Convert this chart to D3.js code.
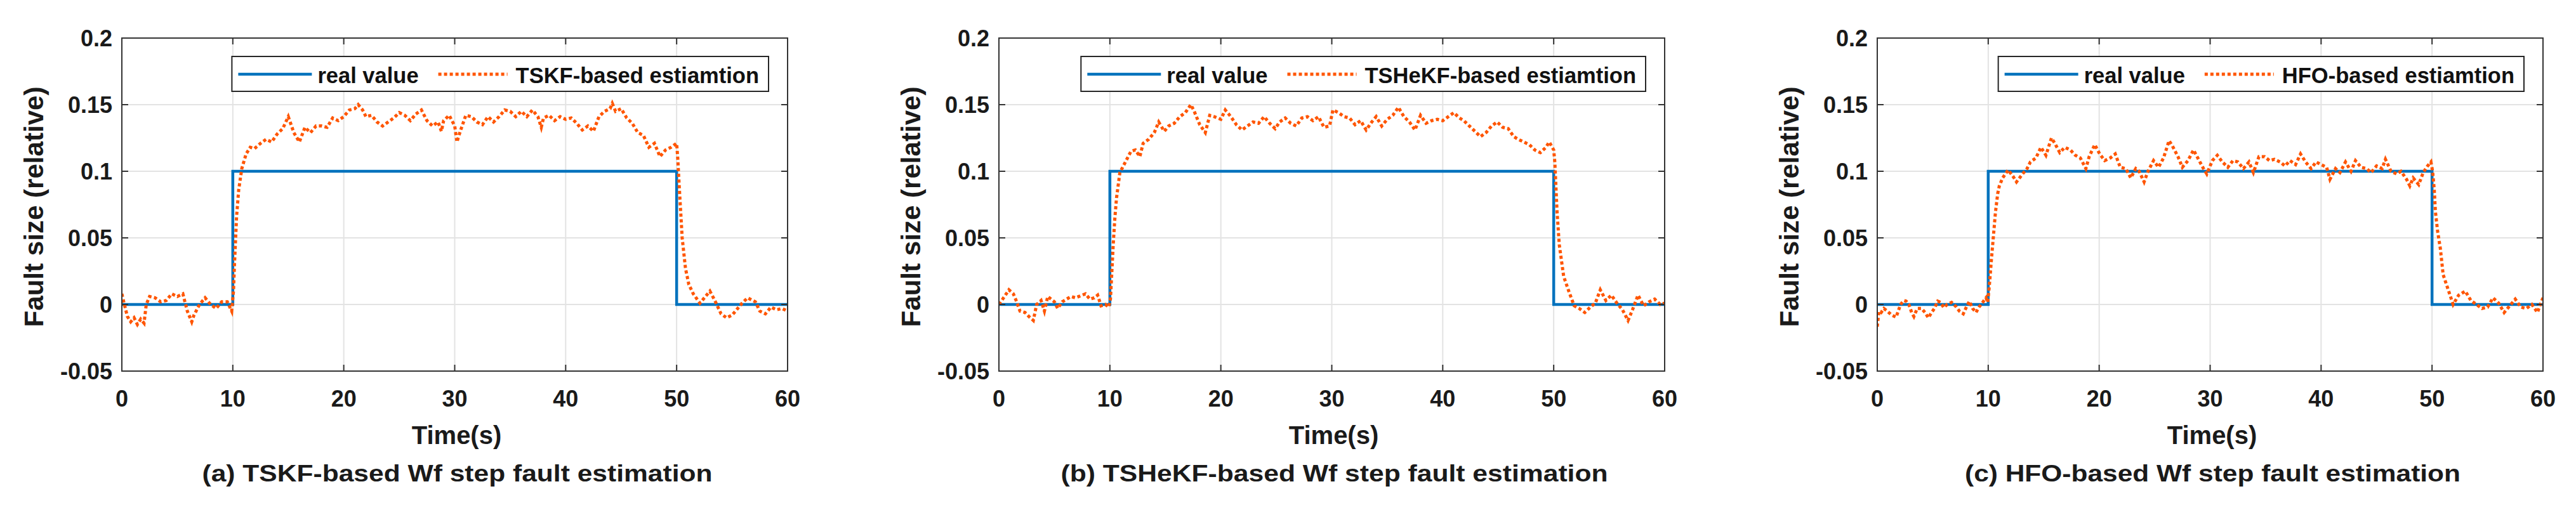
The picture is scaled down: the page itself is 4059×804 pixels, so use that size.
<!DOCTYPE html>
<html><head><meta charset="utf-8">
<script src="https://cdn.jsdelivr.net/npm/d3@7/dist/d3.min.js"></script>
<style>body{margin:0;background:#fff}svg{display:block}</style>
</head><body>
<svg id="chart" width="4059" height="804"></svg>
<script>
// ---------- data ----------
const xTicks = [0, 10, 20, 30, 40, 50, 60];
const yTicks = [-0.05, 0, 0.05, 0.1, 0.15, 0.2];
const yTickLabels = ["-0.05", "0", "0.05", "0.1", "0.15", "0.2"];
const xTickLabels = ["0", "10", "20", "30", "40", "50", "60"];

const realTime  = [0, 10, 10, 50, 50, 60];
const realValue = [0, 0, 0.1, 0.1, 0, 0];

const timeA = [0,0.2,0.5,0.8,1.1,1.4,1.7,2.0,2.2,2.5,3.0,3.5,4.0,4.5,5.0,5.5,5.9,6.3,6.5,7.0,7.5,8.0,8.5,9.0,9.5,9.9,
  10.06,10.15,10.25,10.34,10.53,10.81,11.2,11.57,11.95,12.5,13.0,13.5,14.0,14.5,15.0,15.5,16.0,16.5,17.0,17.5,18.0,18.5,19.0,19.5,
  20.0,20.5,21.0,21.3,21.7,22.0,22.5,23.0,23.5,24.0,24.5,25.0,25.5,26.0,26.5,27.0,27.5,28.0,28.5,28.8,29.0,29.5,
  30.0,30.2,30.5,31.0,31.5,32.0,32.5,33.0,33.5,34.0,34.5,35.0,35.5,36.0,36.5,37.0,37.5,37.8,38.0,38.5,39.0,39.5,
  40.0,40.5,41.0,41.5,42.0,42.5,43.0,43.5,44.0,44.2,44.5,45.0,45.5,46.0,46.5,47.0,47.5,48.0,48.5,49.0,49.5,
  50.0,50.1,50.2,50.3,50.5,50.8,51.1,51.5,52.1,52.8,53.0,53.5,54.0,54.5,55.0,55.5,55.9,56.4,57.1,57.5,58.0,58.5,59.0,59.5,60.0];
const estA = [0.008,0.001,-0.009,-0.013,-0.010,-0.015,-0.011,-0.014,0.000,0.006,0.005,0.002,0.003,0.008,0.006,0.008,-0.005,-0.013,-0.008,0.000,0.005,0.000,-0.003,0.002,0.002,-0.005,
  0.010,0.030,0.049,0.066,0.086,0.102,0.113,0.118,0.117,0.121,0.124,0.122,0.128,0.132,0.141,0.129,0.122,0.133,0.129,0.134,0.134,0.133,0.140,0.138,
  0.141,0.146,0.147,0.150,0.146,0.141,0.142,0.137,0.134,0.137,0.140,0.144,0.142,0.138,0.143,0.146,0.138,0.134,0.137,0.130,0.138,0.142,
  0.134,0.122,0.130,0.142,0.141,0.137,0.135,0.141,0.137,0.141,0.146,0.145,0.141,0.145,0.141,0.146,0.141,0.133,0.140,0.142,0.138,0.141,
  0.139,0.140,0.136,0.131,0.134,0.130,0.141,0.145,0.147,0.151,0.145,0.147,0.140,0.136,0.129,0.127,0.118,0.121,0.111,0.116,0.118,
  0.121,0.110,0.094,0.079,0.050,0.027,0.015,0.008,0.001,0.008,0.010,0.002,-0.007,-0.010,-0.008,-0.003,0.001,0.005,0.002,-0.005,-0.007,-0.002,-0.004,-0.003,-0.005];

const timeB = [0,0.25,0.5,0.9,1.3,1.6,1.9,2.35,2.7,3.1,3.4,3.8,4.1,4.4,4.7,5.0,5.3,5.7,6.1,6.5,6.9,7.2,7.8,8.2,8.6,8.9,9.2,9.6,9.9,
  10.05,10.15,10.3,10.45,10.6,10.9,11.4,11.9,12.3,12.7,13.0,13.5,14.0,14.4,14.9,15.3,15.8,16.3,16.8,17.3,17.6,18.1,18.6,19.0,19.4,
  20.0,20.4,20.9,21.4,21.9,22.4,22.9,23.4,23.9,24.4,24.9,25.3,25.8,26.3,26.8,27.3,27.8,28.3,28.8,29.3,29.8,
  30.1,30.6,31.1,31.6,32.1,32.6,33.1,33.6,34.0,34.5,35.0,35.5,36.0,36.5,37.0,37.5,38.0,38.5,39.0,39.5,
  40.0,40.5,41.0,41.5,41.9,42.4,42.9,43.4,43.9,44.4,44.9,45.4,45.9,46.4,46.8,47.3,47.8,48.3,48.8,49.3,49.6,
  50.0,50.1,50.3,50.5,50.9,51.4,51.85,52.3,52.8,53.3,53.75,54.2,54.7,55.2,55.7,56.2,56.7,57.1,57.6,58.1,58.6,59.1,59.6,60.0];
const estB = [0.000,0.003,0.006,0.011,0.008,0.002,-0.005,-0.006,-0.009,-0.012,0.000,0.003,-0.005,0.006,0.004,0.002,-0.003,0.002,0.004,0.006,0.005,0.006,0.008,0.004,0.005,0.007,-0.001,0.000,-0.002,
  0.004,0.020,0.045,0.065,0.080,0.099,0.107,0.115,0.116,0.111,0.121,0.124,0.129,0.137,0.130,0.134,0.136,0.141,0.144,0.150,0.145,0.135,0.129,0.142,0.141,
  0.139,0.146,0.141,0.135,0.131,0.134,0.137,0.136,0.141,0.136,0.132,0.137,0.140,0.136,0.134,0.140,0.141,0.138,0.141,0.133,0.134,
  0.146,0.144,0.141,0.140,0.135,0.138,0.131,0.137,0.141,0.134,0.139,0.142,0.148,0.141,0.137,0.131,0.142,0.136,0.138,0.139,
  0.138,0.141,0.144,0.140,0.138,0.134,0.130,0.126,0.129,0.134,0.137,0.133,0.132,0.126,0.124,0.122,0.120,0.116,0.114,0.118,0.122,
  0.116,0.107,0.070,0.045,0.021,0.009,-0.001,-0.003,-0.006,-0.002,0.001,0.011,0.003,0.007,0.001,-0.004,-0.012,-0.004,0.007,-0.001,0.002,0.004,0.000,0.001];

const timeC = [0,0.05,0.15,0.35,0.6,0.9,1.3,1.7,2.1,2.4,2.6,2.85,3.1,3.3,3.6,4.0,4.3,4.6,4.9,5.15,5.45,5.7,6.0,6.3,6.7,7.1,7.4,7.75,8.05,8.3,8.6,8.9,9.2,9.5,9.8,9.95,
  10.05,10.15,10.3,10.45,10.65,10.85,11.0,11.3,11.8,12.25,12.55,13.0,13.5,13.8,14.3,14.75,15.2,15.7,16.0,16.45,16.9,17.4,17.85,18.3,18.8,19.1,19.6,
  20.05,20.5,21.0,21.45,21.9,22.4,22.85,23.3,23.6,24.05,24.4,24.9,25.35,25.8,26.3,26.6,27.1,27.5,28.0,28.5,28.95,29.4,29.7,
  30.2,30.65,31.1,31.6,32.05,32.5,33.0,33.5,33.9,34.4,34.9,35.35,35.8,36.3,36.75,37.2,37.7,38.15,38.6,39.1,39.55,
  40.0,40.5,40.8,41.3,41.7,42.2,42.7,43.1,43.6,44.1,44.5,45.0,45.5,45.8,46.3,46.8,47.2,47.7,48.0,48.3,48.8,49.2,49.6,49.9,
  50.05,50.2,50.3,50.5,50.75,51.0,51.5,51.9,52.4,53.0,53.5,54.0,54.5,55.0,55.5,56.0,56.5,57.0,57.5,58.0,58.5,59.0,59.5,59.8,60.0];
const estC = [-0.0166,-0.0127,-0.005,-0.006,-0.003,-0.005,-0.008,-0.0095,0.000,0.003,0.0025,0.000,-0.006,-0.009,-0.003,-0.003,-0.006,-0.010,-0.006,-0.003,0.0025,0.0016,-0.0024,0.000,0.0016,-0.0016,-0.005,-0.007,-0.0016,0.0024,-0.003,-0.006,-0.0016,0.0016,0.005,0.0016,
  0.0095,0.019,0.035,0.0495,0.069,0.083,0.089,0.095,0.101,0.096,0.092,0.097,0.102,0.107,0.110,0.118,0.112,0.125,0.121,0.114,0.118,0.116,0.112,0.110,0.102,0.111,0.120,
  0.113,0.108,0.110,0.113,0.103,0.102,0.095,0.102,0.100,0.092,0.100,0.108,0.103,0.110,0.123,0.119,0.111,0.103,0.108,0.116,0.109,0.102,0.098,
  0.108,0.112,0.107,0.103,0.108,0.107,0.102,0.107,0.099,0.111,0.111,0.108,0.109,0.107,0.104,0.108,0.105,0.113,0.107,0.102,0.107,
  0.105,0.103,0.094,0.102,0.099,0.107,0.100,0.108,0.103,0.102,0.099,0.104,0.102,0.109,0.100,0.098,0.100,0.094,0.089,0.095,0.090,0.099,0.104,0.107,
  0.100,0.086,0.070,0.055,0.042,0.0224,0.010,0.000,0.007,0.010,0.003,0.000,-0.003,-0.002,0.005,0.001,-0.006,-0.001,0.004,-0.002,-0.003,0.000,-0.006,0.001,0.005];

const estTimes  = [timeA, timeB, timeC];
const estValues = [estA, estB, estC];
const realLabel = "real value";
const estLabels = ["TSKF-based estiamtion", "TSHeKF-based estiamtion", "HFO-based estiamtion"];
const captions  = ["(a) TSKF-based Wf step fault estimation", "(b) TSHeKF-based Wf step fault estimation", "(c) HFO-based Wf step fault estimation"];
const xLabel = "Time(s)";
const yLabel = "Fault size (relative)";

// ---------- layout ----------
const panelLefts = [192, 1574, 2958];
const plotW = 1049, plotTop = 60, plotH = 525;
const captionWidths = [804, 862, 781];
const blue = "#0072BD", orange = "#FF5500", axisCol = "#333333", gridCol = "#e3e3e3";
const FONT = "'Liberation Sans', Arial, Helvetica, sans-serif";
const DASH = "5,4";

const svg = d3.select("#chart").style("font-family", FONT);

panelLefts.forEach((left, i) => {
  const x = d3.scaleLinear().domain([0, 60]).range([left, left + plotW]);
  const y = d3.scaleLinear().domain([-0.05, 0.2]).range([plotTop + plotH, plotTop]);
  const g = svg.append("g");

  const clipId = "clip" + i;
  svg.append("clipPath").attr("id", clipId).append("rect")
    .attr("x", left).attr("y", plotTop).attr("width", plotW).attr("height", plotH);

  // grid
  g.append("g").selectAll("line").data(xTicks.slice(1, -1)).join("line")
    .attr("x1", d => x(d)).attr("x2", d => x(d)).attr("y1", plotTop).attr("y2", plotTop + plotH)
    .attr("stroke", gridCol).attr("stroke-width", 2);
  g.append("g").selectAll("line").data(yTicks.slice(1, -1)).join("line")
    .attr("y1", d => y(d)).attr("y2", d => y(d)).attr("x1", left).attr("x2", left + plotW)
    .attr("stroke", gridCol).attr("stroke-width", 2);

  // real value line
  const realPts = realTime.map((t, k) => [t, realValue[k]]);
  g.append("path").datum(realPts)
    .attr("clip-path", `url(#${clipId})`)
    .attr("d", d3.line().x(d => x(d[0])).y(d => y(d[1])))
    .attr("fill", "none").attr("stroke", blue).attr("stroke-width", 4.5);

  // estimation (dotted)
  const estPts = estTimes[i].map((t, k) => [t, estValues[i][k]]);
  g.append("path").datum(estPts)
    .attr("clip-path", `url(#${clipId})`)
    .attr("d", d3.line().x(d => x(d[0])).y(d => y(d[1])))
    .attr("fill", "none").attr("stroke", orange).attr("stroke-width", 5)
    .attr("stroke-dasharray", DASH);

  // axes box
  g.append("rect").attr("x", left).attr("y", plotTop).attr("width", plotW).attr("height", plotH)
    .attr("fill", "none").attr("stroke", axisCol).attr("stroke-width", 2);

  // ticks (inward, all four sides)
  const tl = 10;
  const tg = g.append("g").attr("stroke", axisCol).attr("stroke-width", 2);
  xTicks.forEach(t => {
    tg.append("line").attr("x1", x(t)).attr("x2", x(t)).attr("y1", plotTop + plotH).attr("y2", plotTop + plotH - tl);
    tg.append("line").attr("x1", x(t)).attr("x2", x(t)).attr("y1", plotTop).attr("y2", plotTop + tl);
  });
  yTicks.forEach(v => {
    tg.append("line").attr("y1", y(v)).attr("y2", y(v)).attr("x1", left).attr("x2", left + tl);
    tg.append("line").attr("y1", y(v)).attr("y2", y(v)).attr("x1", left + plotW).attr("x2", left + plotW - tl);
  });

  // tick labels
  g.append("g").selectAll("text").data(xTicks).join("text")
    .attr("x", d => x(d)).attr("y", 641).attr("text-anchor", "middle")
    .attr("font-size", 36).attr("font-weight", "bold").attr("fill", "#1a1a1a")
    .text((d, k) => xTickLabels[k]);
  g.append("g").selectAll("text").data(yTicks).join("text")
    .attr("x", left - 15).attr("y", d => y(d) + 13).attr("text-anchor", "end")
    .attr("font-size", 36).attr("font-weight", "bold").attr("fill", "#1a1a1a")
    .text((d, k) => yTickLabels[k]);

  // axis labels
  g.append("text").attr("x", left + plotW / 2 + 3).attr("y", 700).attr("text-anchor", "middle")
    .attr("font-size", 40).attr("font-weight", "bold").attr("fill", "#1a1a1a").text(xLabel);
  g.append("text")
    .attr("transform", `translate(${left - 124},${326}) rotate(-90)`)
    .attr("text-anchor", "middle").attr("font-size", 43).attr("font-weight", "bold").attr("fill", "#1a1a1a")
    .attr("textLength", 379).attr("lengthAdjust", "spacingAndGlyphs")
    .text(yLabel);

  // caption
  g.append("text").attr("x", left + plotW / 2 + 4).attr("y", 759).attr("text-anchor", "middle")
    .attr("font-size", 37).attr("font-weight", "bold").attr("fill", "#1a1a1a")
    .attr("textLength", captionWidths[i]).attr("lengthAdjust", "spacingAndGlyphs")
    .text(captions[i]);

  // legend
  const lg = g.append("g");
  const box = lg.append("rect");
  const fs = 34.5;
  const t1 = lg.append("text").attr("font-size", fs).attr("font-weight", "bold").attr("fill", "#111").text(realLabel);
  const t2 = lg.append("text").attr("font-size", fs).attr("font-weight", "bold").attr("fill", "#111").text(estLabels[i]);
  const w1 = t1.node().getComputedTextLength(), w2 = t2.node().getComputedTextLength();
  const padL = 10, sample = 116, gapT = 9, gapItem = 31, sample2 = 109, gapT2 = 13, padR = 15;
  const lw = padL + sample + gapT + w1 + gapItem + sample2 + gapT2 + w2 + padR;
  const lx = left + plotW - 30 - lw, ly = 89, lh = 55, midY = 117;
  box.attr("x", lx).attr("y", ly).attr("width", lw).attr("height", lh)
    .attr("fill", "#fff").attr("stroke", "#262626").attr("stroke-width", 2);
  lg.append("line").attr("x1", lx + padL).attr("x2", lx + padL + sample).attr("y1", midY).attr("y2", midY)
    .attr("stroke", blue).attr("stroke-width", 4.5);
  t1.attr("x", lx + padL + sample + gapT).attr("y", 131);
  const s2x = lx + padL + sample + gapT + w1 + gapItem;
  lg.append("line").attr("x1", s2x).attr("x2", s2x + sample2).attr("y1", midY).attr("y2", midY)
    .attr("stroke", orange).attr("stroke-width", 5).attr("stroke-dasharray", DASH);
  t2.attr("x", s2x + sample2 + gapT2).attr("y", 131);
});
</script>
</body></html>
